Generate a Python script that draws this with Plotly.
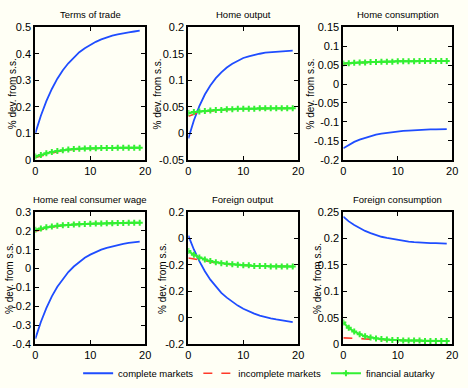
import plotly.graph_objects as go

t = list(range(20))

titles = ["Terms of trade", "Home output", "Home consumption",
          "Home real consumer wage", "Foreign output", "Foreign consumption"]
series_names = ["complete markets", "incomplete markets", "financial autarky"]

# complete markets
cm = [
    [0.100, 0.166, 0.221, 0.267, 0.306, 0.338, 0.364, 0.387, 0.406, 0.421,
     0.434, 0.445, 0.454, 0.462, 0.468, 0.473, 0.478, 0.481, 0.484, 0.487],
    [-0.010, 0.024, 0.051, 0.073, 0.090, 0.104, 0.115, 0.124, 0.131, 0.137,
     0.142, 0.145, 0.148, 0.150, 0.152, 0.153, 0.154, 0.155, 0.156, 0.156],
    [-0.170, -0.161, -0.153, -0.147, -0.142, -0.137, -0.134, -0.131, -0.129, -0.127,
     -0.125, -0.124, -0.123, -0.122, -0.121, -0.121, -0.120, -0.120, -0.120, -0.119],
    [-0.370, -0.282, -0.209, -0.147, -0.096, -0.054, -0.018, 0.011, 0.036, 0.057,
     0.074, 0.088, 0.100, 0.110, 0.118, 0.125, 0.131, 0.136, 0.140, 0.143],
    [0.005, -0.021, -0.043, -0.062, -0.078, -0.091, -0.103, -0.112, -0.120, -0.127,
     -0.133, -0.138, -0.142, -0.146, -0.149, -0.151, -0.153, -0.155, -0.157, -0.158],
    [0.241, 0.232, 0.225, 0.219, 0.214, 0.210, 0.206, 0.203, 0.201, 0.199,
     0.197, 0.196, 0.194, 0.193, 0.192, 0.192, 0.191, 0.191, 0.190, 0.190],
]
# incomplete markets
im = [
    [0.008, 0.014, 0.020, 0.026, 0.030, 0.034, 0.037, 0.039, 0.040, 0.041,
     0.042, 0.043, 0.044, 0.044, 0.044, 0.045, 0.045, 0.045, 0.045, 0.045],
    [0.032, 0.036, 0.039, 0.041, 0.042, 0.043, 0.044, 0.045, 0.045, 0.046,
     0.046, 0.046, 0.046, 0.047, 0.047, 0.047, 0.047, 0.047, 0.047, 0.047],
    [0.054, 0.055, 0.056, 0.057, 0.057, 0.058, 0.058, 0.059, 0.059, 0.059,
     0.060, 0.060, 0.060, 0.060, 0.061, 0.061, 0.061, 0.061, 0.061, 0.061],
    [0.197, 0.206, 0.213, 0.219, 0.224, 0.228, 0.231, 0.233, 0.235, 0.236,
     0.237, 0.238, 0.239, 0.240, 0.240, 0.241, 0.241, 0.242, 0.242, 0.242],
    [-0.037, -0.039, -0.041, -0.043, -0.045, -0.047, -0.048, -0.049, -0.050, -0.050,
     -0.051, -0.051, -0.052, -0.052, -0.052, -0.053, -0.053, -0.053, -0.053, -0.053],
    [0.012, 0.012, 0.011, 0.011, 0.010, 0.010, 0.009, 0.009, 0.008, 0.008,
     0.008, 0.007, 0.007, 0.007, 0.007, 0.006, 0.006, 0.006, 0.006, 0.006],
]
# financial autarky
fa = [
    [0.012, 0.018, 0.024, 0.029, 0.033, 0.036, 0.038, 0.040, 0.041, 0.042,
     0.043, 0.043, 0.044, 0.044, 0.044, 0.045, 0.045, 0.045, 0.045, 0.045],
    [0.038, 0.040, 0.041, 0.042, 0.043, 0.044, 0.044, 0.045, 0.045, 0.046,
     0.046, 0.046, 0.046, 0.047, 0.047, 0.047, 0.047, 0.047, 0.047, 0.047],
    [0.054, 0.055, 0.056, 0.057, 0.057, 0.058, 0.058, 0.059, 0.059, 0.059,
     0.060, 0.060, 0.060, 0.060, 0.061, 0.061, 0.061, 0.061, 0.061, 0.061],
    [0.205, 0.212, 0.218, 0.222, 0.226, 0.229, 0.231, 0.233, 0.235, 0.236,
     0.237, 0.238, 0.239, 0.240, 0.240, 0.241, 0.241, 0.242, 0.242, 0.242],
    [-0.024, -0.031, -0.036, -0.040, -0.043, -0.045, -0.047, -0.048, -0.049, -0.050,
     -0.051, -0.051, -0.052, -0.052, -0.052, -0.053, -0.053, -0.053, -0.053, -0.053],
    [0.041, 0.031, 0.024, 0.019, 0.015, 0.013, 0.011, 0.010, 0.009, 0.008,
     0.008, 0.007, 0.007, 0.007, 0.007, 0.006, 0.006, 0.006, 0.006, 0.006],
]

y_ranges = [[0, 0.5], [-0.05, 0.2], [-0.2, 0.15], [-0.4, 0.3], [-0.2, 0.05], [0, 0.25]]
y_tickvals = [
    [0, 0.1, 0.2, 0.3, 0.4, 0.5],
    [-0.05, 0, 0.05, 0.1, 0.15, 0.2],
    [-0.2, -0.15, -0.1, -0.05, 0, 0.05, 0.1, 0.15],
    [-0.4, -0.3, -0.2, -0.1, 0, 0.1, 0.2, 0.3],
    [-0.2, -0.15, -0.1, -0.05, 0, 0.05],
    [0, 0.05, 0.1, 0.15, 0.2, 0.25],
]
y_ticktext = [
    ["0", "0.1", "0.2", "0.3", "0.4", "0.5"],
    ["-0.05", "0", "0.05", "0.1", "0.15", "0.2"],
    ["-0.2", "-0.15", "-0.1", "-0.05", "0", "0.05", "0.1", "0.15"],
    ["-0.4", "-0.3", "-0.2", "-0.1", "0", "0.1", "0.2", "0.3"],
    ["-0.2", "0", "0.2", "-0.2", "0", "0.2"],
    ["0", "0.05", "0.1", "0.15", "0.2", "0.25"],
]
x_ticks = [0, 10, 20]

W, H = 468, 388
xdom_px = [(33, 145), (189, 301), (347, 458)]
ydom_px = [(22, 159), (213, 350)]
ylabel_x_px = [[10, 157, 314], [6, 162, 320]]

BLUE = "#1f4dff"
RED = "#ff3a2a"
GREEN = "#33f033"
BG = "#fffff5"
FONT = "Liberation Sans, Arial, sans-serif"

fig = go.Figure()
annotations = []
for i in range(6):
    r, c = divmod(i, 3)
    ax = "" if i == 0 else str(i + 1)
    xd = [xdom_px[c][0] / W, xdom_px[c][1] / W]
    yd = [1 - ydom_px[r][1] / H, 1 - ydom_px[r][0] / H]
    show = (i == 0)
    fig.add_trace(go.Scatter(x=t, y=cm[i], mode="lines", name=series_names[0],
                             line=dict(color=BLUE, width=1.8), xaxis="x" + ax, yaxis="y" + ax,
                             showlegend=show, legendgroup="cm"))
    fig.add_trace(go.Scatter(x=t, y=im[i], mode="lines", name=series_names[1],
                             line=dict(color=RED, width=1.6, dash="dash"), xaxis="x" + ax, yaxis="y" + ax,
                             showlegend=show, legendgroup="im"))
    fig.add_trace(go.Scatter(x=t, y=fa[i], mode="lines+markers", name=series_names[2],
                             line=dict(color=GREEN, width=2),
                             marker=dict(symbol="cross", size=5, color=GREEN),
                             xaxis="x" + ax, yaxis="y" + ax,
                             showlegend=show, legendgroup="fa"))
    common = dict(showline=True, mirror="ticks", linecolor="black", linewidth=2,
                  ticks="inside", ticklen=4, tickwidth=1, tickcolor="black",
                  showgrid=False, zeroline=False,
                  tickfont=dict(family=FONT, size=11, color="black"))
    fig.layout["xaxis" + ax] = dict(domain=xd, range=[0, 20], tickvals=x_ticks,
                                   anchor="y" + ax, **common)
    fig.layout["yaxis" + ax] = dict(domain=yd, range=y_ranges[i], tickvals=y_tickvals[i],
                                   ticktext=y_ticktext[i], anchor="x" + ax, **common)
    annotations.append(dict(text=titles[i], x=(xd[0] + xd[1]) / 2, y=yd[1], xref="paper", yref="paper",
                            xanchor="center", yanchor="bottom", yshift=5, showarrow=False,
                            font=dict(family=FONT, size=9.5, color="black")))
    annotations.append(dict(text="% dev. from s.s.", x=ylabel_x_px[r][c] / W, y=(yd[0] + yd[1]) / 2,
                            xref="paper", yref="paper", xanchor="center", yanchor="middle",
                            textangle=-90, showarrow=False,
                            font=dict(family=FONT, size=10, color="black")))

fig.update_layout(
    width=W, height=H, margin=dict(l=0, r=0, t=0, b=0),
    paper_bgcolor=BG, plot_bgcolor=BG,
    annotations=annotations,
    showlegend=True,
    legend=dict(orientation="h", x=0.558, xanchor="center", y=1 - 380 / H, yanchor="middle",
                font=dict(family=FONT, size=9.5, color="black"), bgcolor="rgba(0,0,0,0)",
                itemwidth=30, tracegroupgap=0),
)

fig.write_html("out.html", config={"displayModeBar": False},
               post_script="document.body.style.margin='0';document.body.style.overflow='hidden';")
